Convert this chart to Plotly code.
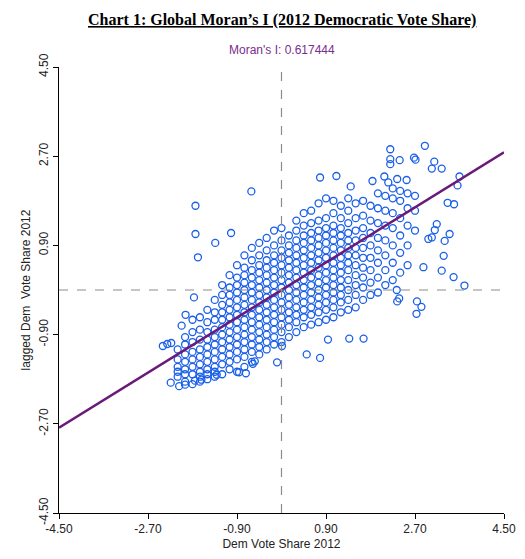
import plotly.graph_objects as go

MORAN_I = 0.617444
TICKS = [-4.5, -2.7, -0.9, 0.9, 2.7, 4.5]
TICK_LABELS = ["-4.50", "-2.70", "-0.90", "0.90", "2.70", "4.50"]

# dense band, read column by column (x: list of y)
CORE = {
    -2.10: [-1.55, -1.75, -1.40, -1.20, -1.65],
    -1.95: [-1.85, -1.60, -1.45, -1.30, -1.10, -0.95, -1.70],
    -1.80: [-1.90, -1.70, -1.55, -1.40, -1.25, -1.05, -0.85, -0.60],
    -1.65: [-1.85, -1.65, -1.50, -1.35, -1.20, -1.00, -0.80, -0.55, -1.75],
    -1.50: [-1.80, -1.60, -1.45, -1.30, -1.15, -1.00, -0.85, -0.65, -0.40, -1.70],
    -1.35: [-1.75, -1.55, -1.40, -1.25, -1.10, -0.95, -0.80, -0.60, -0.45, -0.20, -1.65],
    -1.20: [-1.70, -1.50, -1.35, -1.20, -1.05, -0.90, -0.75, -0.60, -0.45, -0.30, -0.10, 0.10],
    -1.05: [-1.60, -1.45, -1.30, -1.15, -1.00, -0.85, -0.70, -0.55, -0.40, -0.25, -0.10, 0.05, 0.30],
    -0.90: [-1.65, -1.40, -1.25, -1.10, -0.95, -0.80, -0.65, -0.50, -0.35, -0.20, -0.05, 0.10, 0.25, 0.50],
    -0.75: [-1.55, -1.35, -1.20, -1.05, -0.90, -0.75, -0.60, -0.45, -0.30, -0.15, 0.00, 0.15, 0.30, 0.45, 0.70],
    -0.60: [-1.45, -1.25, -1.10, -0.95, -0.80, -0.65, -0.50, -0.35, -0.20, -0.05, 0.10, 0.25, 0.40, 0.60, 0.85],
    -0.45: [-1.30, -1.15, -1.00, -0.85, -0.70, -0.55, -0.40, -0.25, -0.10, 0.05, 0.20, 0.35, 0.50, 0.70, 0.95],
    -0.30: [-1.20, -1.05, -0.90, -0.75, -0.60, -0.45, -0.30, -0.15, 0.00, 0.15, 0.30, 0.45, 0.60, 0.80, 1.05],
    -0.15: [-1.10, -0.95, -0.80, -0.65, -0.50, -0.35, -0.20, -0.05, 0.10, 0.25, 0.40, 0.55, 0.70, 0.90, 1.20],
    0.00: [-1.05, -0.85, -0.70, -0.55, -0.40, -0.25, -0.10, 0.05, 0.20, 0.35, 0.50, 0.65, 0.80, 1.00, 1.25],
    0.15: [-0.95, -0.75, -0.60, -0.45, -0.30, -0.15, 0.00, 0.15, 0.30, 0.45, 0.60, 0.75, 0.90, 1.10],
    0.30: [-0.85, -0.65, -0.50, -0.35, -0.20, -0.05, 0.10, 0.25, 0.40, 0.55, 0.70, 0.85, 1.00, 1.20, 1.40],
    0.45: [-0.75, -0.55, -0.40, -0.25, -0.10, 0.05, 0.20, 0.35, 0.50, 0.65, 0.80, 0.95, 1.10, 1.30, 1.55],
    0.60: [-0.70, -0.50, -0.35, -0.20, -0.05, 0.10, 0.25, 0.40, 0.55, 0.70, 0.85, 1.00, 1.15, 1.35, 1.60],
    0.75: [-0.65, -0.45, -0.30, -0.15, 0.00, 0.15, 0.30, 0.45, 0.60, 0.75, 0.90, 1.05, 1.20, 1.40, 1.75],
    0.90: [-0.60, -0.40, -0.25, -0.10, 0.05, 0.20, 0.35, 0.50, 0.65, 0.80, 0.95, 1.10, 1.25, 1.45, 1.85],
    1.05: [-0.55, -0.35, -0.20, -0.05, 0.10, 0.25, 0.40, 0.55, 0.70, 0.85, 1.00, 1.15, 1.30, 1.55, 1.80],
    1.20: [-0.45, -0.25, -0.10, 0.05, 0.20, 0.35, 0.50, 0.65, 0.80, 0.95, 1.10, 1.25, 1.45, 1.70],
    1.35: [-0.40, -0.20, 0.00, 0.20, 0.40, 0.55, 0.70, 0.85, 1.00, 1.15, 1.35, 1.60, 1.85],
    1.50: [-0.35, -0.10, 0.10, 0.30, 0.50, 0.70, 0.85, 1.00, 1.20, 1.45, 1.75],
    1.65: [-0.20, 0.05, 0.25, 0.45, 0.65, 0.85, 1.05, 1.25, 1.50, 1.80],
    1.80: [-0.10, 0.15, 0.40, 0.65, 0.90, 1.15, 1.40, 1.70],
    1.95: [-0.05, 0.25, 0.55, 0.80, 1.05, 1.35, 1.65, 1.95],
    2.10: [0.10, 0.40, 0.70, 1.00, 1.30, 1.60, 1.90],
    2.25: [0.20, 0.55, 0.90, 1.25, 1.55, 1.85, 2.05],
    2.40: [0.35, 0.75, 1.10, 1.45, 1.80, 2.00],
    2.55: [0.50, 0.90, 1.30, 1.65, 1.95],
    2.70: [1.20, 1.60, 1.90],
}

# scattered counties outside the band
OUTLIERS = [
    (2.90, 2.91), (2.20, 2.84), (2.20, 2.64), (2.39, 2.62), (2.20, 2.54),
    (2.68, 2.67), (2.71, 2.63), (3.09, 2.59), (3.04, 2.45), (3.24, 2.45),
    (3.60, 2.29), (3.56, 2.11), (3.36, 1.76), (3.49, 1.73), (3.14, 1.33),
    (3.10, 1.21), (3.40, 1.13), (3.30, 0.99), (3.04, 1.06), (2.97, 1.03),
    (3.28, 0.69), (3.24, 0.39), (3.48, 0.26), (3.70, 0.09), (2.87, 0.46),
    (2.74, -0.23), (2.83, -0.34), (2.73, -0.48), (2.38, -0.17), (2.34, -0.23),
    (2.33, 0.00), (1.66, -0.98), (1.37, -0.98), (0.78, -1.37), (0.51, -1.30),
    (0.94, -1.00), (-0.09, -1.46), (0.01, -1.13), (-0.61, 1.99), (-1.74, 1.70),
    (-1.74, 1.13), (-1.69, 0.66), (-1.34, 0.95), (1.11, 2.30), (0.78, 2.27),
    (1.40, 2.09), (1.84, 2.20), (2.08, 2.29), (2.16, 2.17), (2.34, 2.24),
    (2.53, 2.22), (-1.02, 1.15), (-1.77, -0.15), (-2.40, -1.13), (-2.31, -1.09),
    (-2.23, -1.07), (-2.24, -1.87), (-2.07, -1.94), (-1.95, -1.91), (-1.75, -1.83),
    (-1.62, -1.81), (-1.31, -1.71), (-0.72, -1.68), (-0.86, -1.66), (-0.54, -1.44),
    (-0.58, -1.49), (-1.94, -0.50), (-2.02, -0.72),
]

xs, ys = [], []
for x, col in CORE.items():
    for y in col:
        xs.append(x)
        ys.append(y)
for x, y in OUTLIERS:
    xs.append(x)
    ys.append(y)

fig = go.Figure()
fig.add_trace(go.Scatter(
    x=xs, y=ys, mode="markers",
    marker=dict(symbol="circle-open", size=7, color="#1a5fe8", line=dict(width=1.3)),
    showlegend=False,
))
fig.add_trace(go.Scatter(
    x=[-4.5, 4.5], y=[-4.5 * MORAN_I, 4.5 * MORAN_I], mode="lines",
    line=dict(color="#6a1a78", width=2.5), showlegend=False,
))
fig.add_vline(x=0, line=dict(color="#8c8c8c", width=1.2, dash="dash"))
fig.add_hline(y=0, line=dict(color="#8c8c8c", width=1.2, dash="dash"))

axis = dict(range=[-4.5, 4.5], tickvals=TICKS, ticktext=TICK_LABELS,
            showgrid=False, zeroline=False, showline=True, linecolor="black",
            ticks="outside", ticklen=5, tickcolor="black",
            tickfont=dict(family="Liberation Sans", size=12, color="#222"))
fig.update_xaxes(**axis, title=dict(text="Dem Vote Share 2012", standoff=4,
                 font=dict(family="Liberation Sans", size=12, color="#222")))
fig.update_yaxes(**axis, tickangle=-90,
                 title=dict(text="lagged Dem  Vote Share 2012", standoff=4,
                            font=dict(family="Liberation Sans", size=12, color="#222")))

fig.add_annotation(text="<b><u>Chart 1: Global Moran\u2019s I (2012 Democratic Vote Share)</u></b>",
                   x=0.5, y=1, xref="paper", yref="paper", xanchor="center", yanchor="bottom",
                   yshift=36, showarrow=False,
                   font=dict(family="Liberation Serif", size=16, color="black"))
fig.add_annotation(text="Moran's I: 0.617444", x=0, y=1, xref="x", yref="paper",
                   xanchor="center", yanchor="bottom", yshift=8, showarrow=False,
                   font=dict(family="Liberation Sans", size=12, color="#7b2d8e"))

fig.update_layout(width=525, height=559, plot_bgcolor="white", paper_bgcolor="white",
                  margin=dict(l=51, r=29, t=59, b=54))
fig.write_html("out.html")
